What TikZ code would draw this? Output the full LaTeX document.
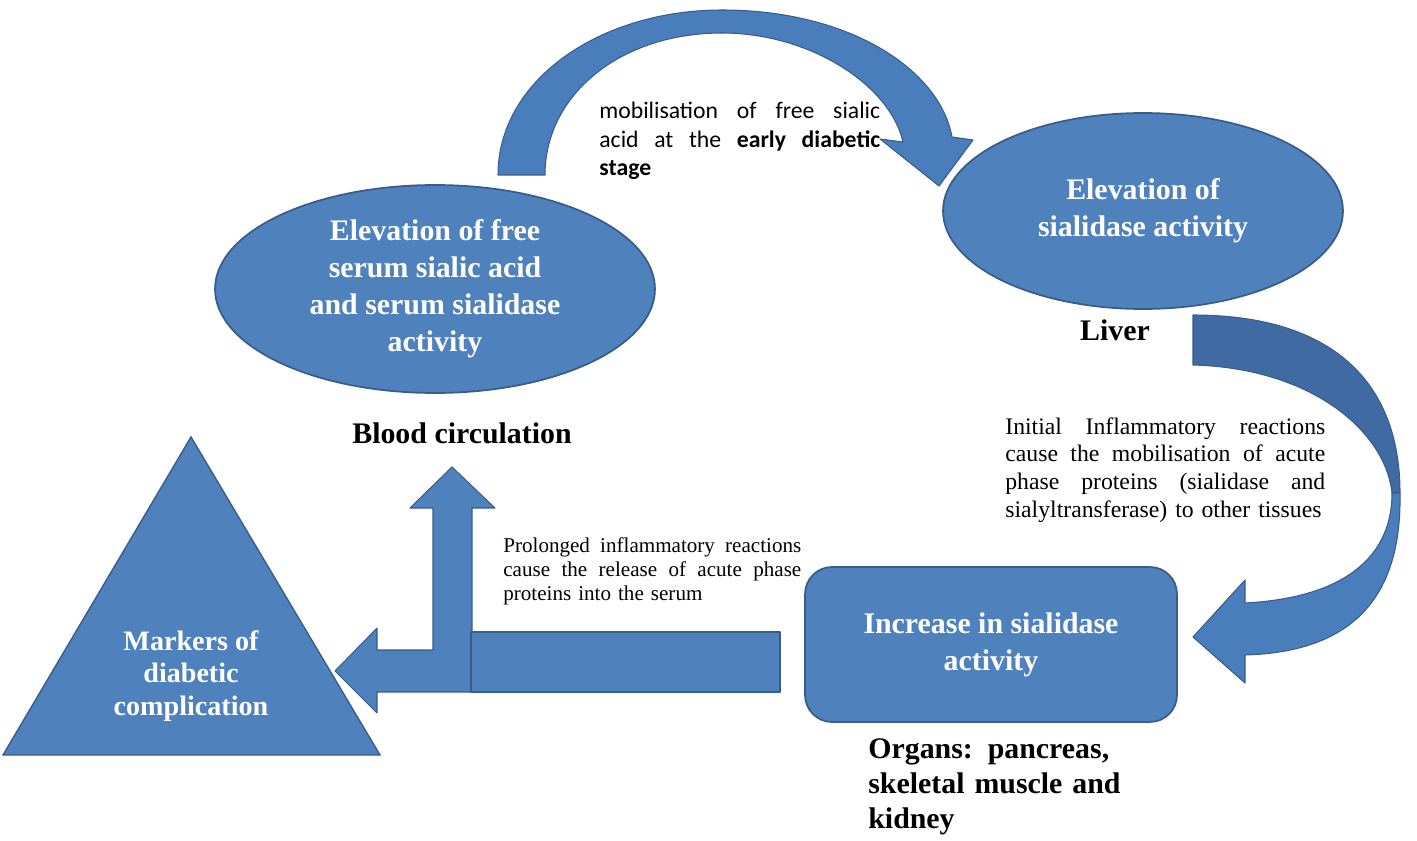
\documentclass[tikz,border=0pt]{standalone}
\usepackage{fontspec}
\setmainfont{Liberation Serif}
\newfontfamily\calibrifont{Carlito}
\usetikzlibrary{positioning, shapes.geometric, calc}
\definecolor{fillblue}{HTML}{4F81BD}
\definecolor{lineblue}{HTML}{385D8A}
\definecolor{arrowblue}{HTML}{4A7DBB}
\definecolor{backblue}{HTML}{3F6AA2}
\newcommand{\jline}[2]{\makebox[#1][s]{\spaceskip=0pt\xspaceskip=0pt #2}}

\begin{document}
\begin{tikzpicture}[x=0.02cm, y=-0.02cm,
    blob/.style={fill=fillblue, draw=lineblue, line width=1pt, text=white, align=center, inner sep=0pt, font=\bfseries\fontsize{17}{21}\selectfont},
    arrowshape/.style={fill=arrowblue, draw=lineblue, line width=0.6pt, line join=round},
    place/.style={font=\bfseries\fontsize{17}{20}\selectfont, inner sep=0pt},
    note/.style={text width=#1, align=left, inner sep=0pt}]
  \useasboundingbox (0,0) rectangle (1417,841);
  % curved arrow: blood -> liver
  \draw[arrowshape] (498,175) .. controls (498,80) and (600,10) .. (722,10) .. controls (850,10) and (940,70) .. (952,137)
    -- (973,140) -- (939,186) -- (880,139) -- (903,142)
    .. controls (890,85) and (810,33) .. (722,33) .. controls (620,33) and (545,95) .. (545,175) -- cycle;
  % curved arrow: liver -> organs
  \draw[arrowshape, fill=backblue] (1193,315) .. controls (1330,315) and (1400,380) .. (1400,493) -- (1392,493)
    .. controls (1385,430) and (1310,368) .. (1193,365) -- cycle;
  \draw[arrowshape] (1400,493) .. controls (1402,600) and (1350,652) .. (1245,655) -- (1245,683) -- (1193,637) -- (1245,580) -- (1245,603)
    .. controls (1340,598) and (1392,560) .. (1392,493) -- cycle;
  % left-up arrow from organs
  \draw[arrowshape, fill=fillblue] (335,671) -- (377,628) -- (377,650) -- (433,650) -- (433,508) -- (410,508) -- (452,467)
    -- (495,508) -- (472,508) -- (472,692) -- (377,692) -- (377,713) -- cycle;
  \draw[arrowshape, fill=fillblue] (471,632) rectangle (780,692);
  % triangle
  \draw[fill=fillblue, draw=lineblue, line width=0.8pt] (191,437) -- (380,755) -- (3,755) -- cycle;
  \node[text=white, font=\bfseries\fontsize{16}{18.5}\selectfont, align=center] (markers) at (191,676) {Markers of\\diabetic\\complication};

  \node[blob, ellipse, minimum width=8.8cm, minimum height=4.16cm] (serum) at (435,289)
    {Elevation of free\\serum sialic acid\\and serum sialidase\\activity};
  \node[blob, ellipse, minimum width=8cm, minimum height=3.92cm] (sialidase) at (1143,211)
    {Elevation of\\sialidase activity};
  \node[blob, rounded corners=0.54cm, minimum width=7.44cm, minimum height=3.1cm] (increase) at (991,644.5)
    {Increase in sialidase\\activity};

  \node[place] (blood) at (462,433) {Blood circulation};
  \node[place] (liver) at (1115,330) {Liver};
  \node[place, note=5.2cm, anchor=base west] (organs) at (868,758)
    {Organs: pancreas,\\skeletal muscle and\\kidney};

  \node[note=5.62cm, font=\calibrifont\fontsize{13.5}{16}\selectfont, anchor=base west] (mobil) at (599,119)
    {\jline{5.62cm}{mobilisation of free sialic}\\\jline{5.62cm}{acid at the \textbf{early diabetic}}\\\textbf{stage}};
  \node[note=6.4cm, font=\fontsize{13.5}{15.9}\selectfont, anchor=base west] (initial) at (1005,434)
    {\jline{6.4cm}{Initial Inflammatory reactions}\\\jline{6.4cm}{cause the mobilisation of acute}\\\jline{6.4cm}{phase proteins (sialidase and}\\sialyltransferase) to other tissues};
  \node[note=5.96cm, font=\fontsize{12}{13.8}\selectfont, anchor=base west] (prolonged) at (503,552)
    {\jline{5.96cm}{Prolonged inflammatory reactions}\\\jline{5.96cm}{cause the release of acute phase}\\proteins into the serum};
\end{tikzpicture}
\end{document}
